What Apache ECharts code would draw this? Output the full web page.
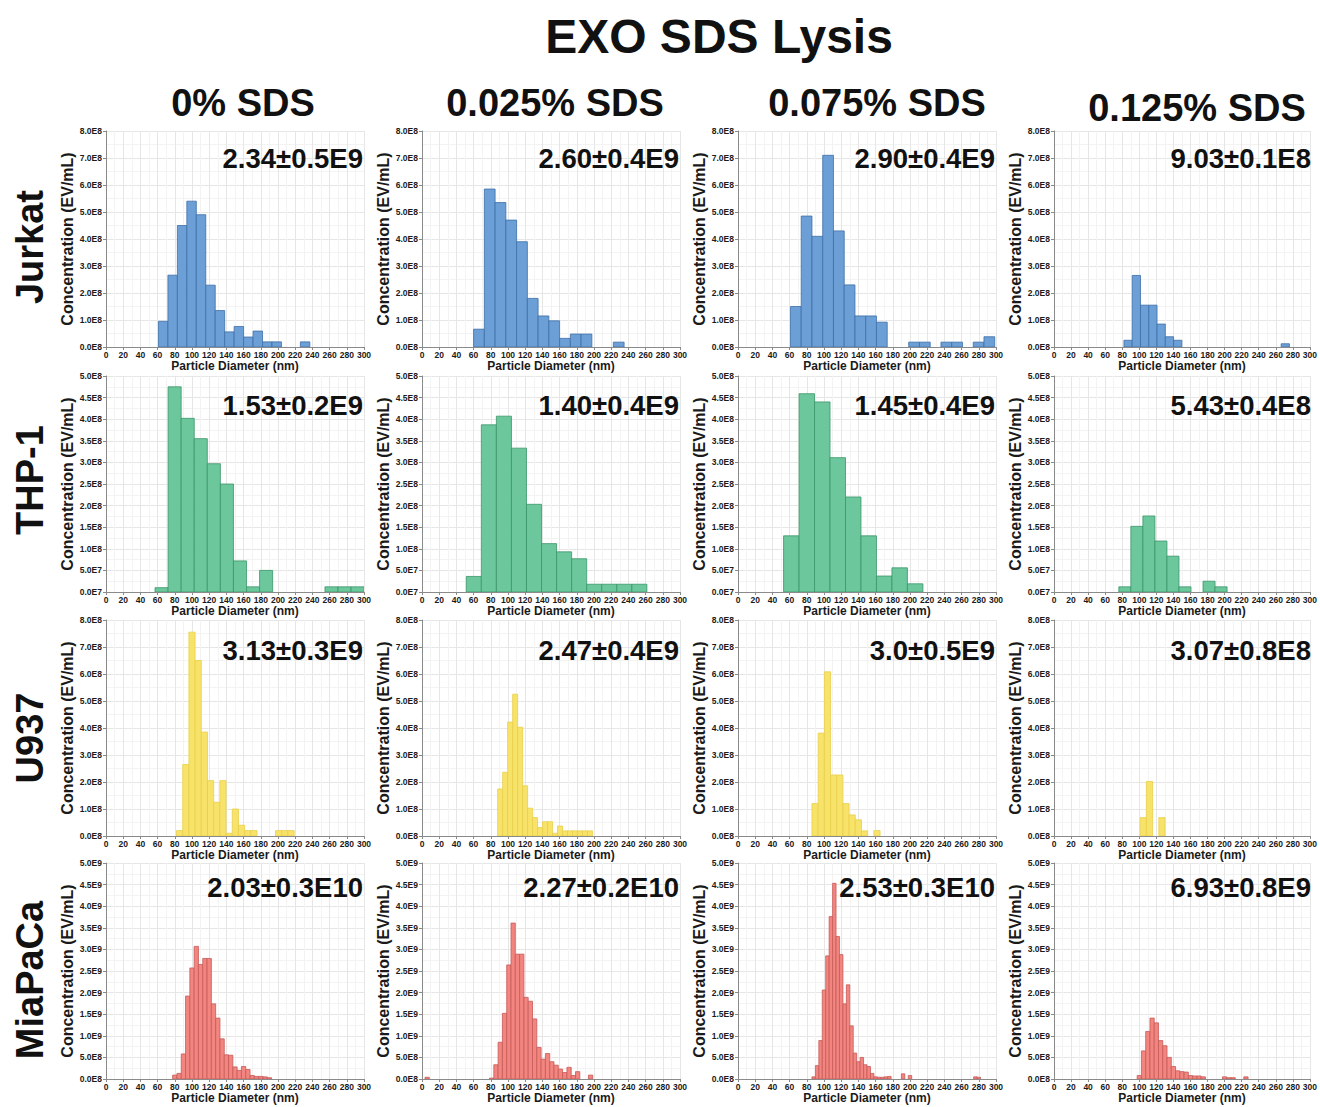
<!DOCTYPE html>
<html><head><meta charset="utf-8">
<script src="https://cdn.jsdelivr.net/npm/echarts@6/dist/echarts.min.js"></script>
<style>html,body{margin:0;padding:0;background:#fff}#c{width:1320px;height:1107px}</style>
</head><body><div id="c"></div>
<script>
// ---------- texts ----------
const mainTitle = 'EXO SDS Lysis';
const cellLines = ['Jurkat', 'THP-1', 'U937', 'MiaPaCa'];
const sdsLevels = ['0% SDS', '0.025% SDS', '0.075% SDS', '0.125% SDS'];
const totals = [
  ['2.34±0.5E9', '2.60±0.4E9', '2.90±0.4E9', '9.03±0.1E8'],
  ['1.53±0.2E9', '1.40±0.4E9', '1.45±0.4E9', '5.43±0.4E8'],
  ['3.13±0.3E9', '2.47±0.4E9', '3.0±0.5E9', '3.07±0.8E8'],
  ['2.03±0.3E10', '2.27±0.2E10', '2.53±0.3E10', '6.93±0.8E9']
];
const xName = 'Particle Diameter (nm)';
const yName = 'Concentration (EV/mL)';

// ---------- axes ----------
const xTickLabels = ['0','20','40','60','80','100','120','140','160','180','200','220','240','260','280','300'];
const yMax  = [8e8, 5e8, 8e8, 5e9];
const yStep = [1e8, 0.5e8, 1e8, 0.5e9];
const yTicksJurkat = ['0.0E8','1.0E8','2.0E8','3.0E8','4.0E8','5.0E8','6.0E8','7.0E8','8.0E8'];
const yTicksTHP1   = ['0.0E7','5.0E7','1.0E8','1.5E8','2.0E8','2.5E8','3.0E8','3.5E8','4.0E8','4.5E8','5.0E8'];
const yTicksU937   = ['0.0E8','1.0E8','2.0E8','3.0E8','4.0E8','5.0E8','6.0E8','7.0E8','8.0E8'];
const yTicksMia    = ['0.0E8','5.0E8','1.0E9','1.5E9','2.0E9','2.5E9','3.0E9','3.5E9','4.0E9','4.5E9','5.0E9'];
const yTickLabels = [yTicksJurkat, yTicksTHP1, yTicksU937, yTicksMia];

// ---------- histogram data (values in row units, bins in nm) ----------
const rowUnit = [1e8, 1e8, 1e8, 1e9];
const binStart = [[61, 60, 61, 82], [57, 51.5, 53, 76], [82, 88, 86, 101], [77.5, 3.5, 86, 97.5]];
const binWidth = [[11, 12.5, 12.5, 9.7], [15.2, 17.5, 18, 14.1], [7.2, 5.8, 7.2, 7.3], [5, 5, 4, 5]];

const jurkat0   = [0.95, 2.66, 4.5, 5.4, 4.9, 2.29, 1.35, 0.56, 0.76, 0.37, 0.59, 0.19, 0.19, 0, 0, 0.19];
const jurkat025 = [0.66, 5.85, 5.35, 4.7, 3.9, 1.8, 1.15, 0.97, 0.32, 0.48, 0.48, 0, 0, 0.18];
const jurkat075 = [1.5, 4.85, 4.1, 7.1, 4.3, 2.3, 1.15, 1.15, 0.92, 0, 0, 0.18, 0.18, 0, 0.18, 0.18, 0, 0.18, 0.38];
const jurkat125 = [0.25, 2.65, 1.55, 1.55, 0.85, 0.38, 0.25, 0, 0, 0, 0, 0, 0, 0, 0, 0, 0, 0, 0, 0.12];

const thp0   = [0.1, 4.75, 4.02, 3.55, 2.97, 2.5, 0.72, 0.12, 0.5, 0, 0, 0, 0, 0.12, 0.12, 0.12];
const thp025 = [0.36, 3.87, 4.07, 3.33, 2.03, 1.12, 0.93, 0.77, 0.18, 0.18, 0.18, 0.18];
const thp075 = [1.3, 4.59, 4.4, 3.11, 2.2, 1.3, 0.37, 0.56, 0.19];
const thp125 = [0.12, 1.52, 1.76, 1.18, 0.83, 0.12, 0, 0.25, 0.12];

const u937_0   = [0.2, 2.65, 7.55, 6.5, 3.85, 2.05, 1.25, 2.05, 0.1, 1.0, 0.4, 0.2, 0.2, 0, 0, 0, 0.2, 0.2, 0.2];
const u937_025 = [1.74, 2.36, 4.22, 5.25, 4.03, 1.86, 1.03, 0.68, 0.31, 0.53, 0.53, 0.1, 0.37, 0.19, 0.19, 0.19, 0.19, 0.19, 0.19];
const u937_075 = [1.2, 3.81, 6.08, 2.26, 2.26, 1.2, 0.78, 0.6, 0.19, 0, 0.2];
const u937_125 = [0.68, 2.02, 0, 0.68];

const mia0   = [0.09, 0.13, 0.58, 1.92, 2.57, 3.07, 2.65, 2.79, 2.79, 1.74, 1.41, 0.93, 0.56, 0.55, 0.28, 0.2, 0.29, 0.22, 0.08, 0.06, 0.06, 0.05, 0.03];
const mia025 = [0.04, 0, 0, 0, 0, 0, 0, 0, 0, 0, 0, 0, 0, 0, 0,
                0.02, 0.33, 0.85, 1.52, 2.64, 3.61, 2.89, 2.89, 1.89, 1.8, 1.39, 0.73, 0.46, 0.59, 0.4, 0.32, 0.23, 0.15, 0.27, 0.08, 0.17, 0, 0, 0.09];
const mia075 = [0.05, 0.31, 0.89, 2.06, 2.85, 3.76, 4.53, 3.3, 2.88, 1.74, 2.18, 1.23, 0.6, 0.4, 0.5, 0.33, 0.29, 0.13, 0.05, 0.04, 0.04, 0.05, 0.06, 0, 0, 0, 0.12, 0, 0.08,
                0, 0, 0, 0, 0, 0, 0, 0, 0, 0, 0, 0, 0, 0, 0, 0, 0, 0, 0.05, 0.04];
const mia125 = [0.08, 0.65, 1.1, 1.41, 1.3, 0.89, 0.77, 0.5, 0.29, 0.19, 0.17, 0.16, 0.08, 0.07, 0.07, 0.05, 0, 0, 0, 0, 0.05, 0.03, 0.03, 0, 0, 0.05];

const panelValues = [
  [jurkat0, jurkat025, jurkat075, jurkat125],
  [thp0, thp025, thp075, thp125],
  [u937_0, u937_025, u937_075, u937_125],
  [mia0, mia025, mia075, mia125]
];

// ---------- styles / layout ----------
const fills   = ['#6b9fd6', '#6cc79c', '#f8e36a', '#f2857f'];
const strokes = ['#3e6fa8', '#3b9568', '#e9cf4a', '#c75a58'];
const colLeft = [106, 422, 738, 1054];
const rowTop  = [131, 376, 620, 863];
const plotW = 258, plotH = 216;
const annotDy = [27, 29, 30, 24];
const FONT = '"Liberation Sans", Arial, sans-serif';
const NARROW = '"Liberation Sans Narrow", "Liberation Sans", Arial, sans-serif';

const grids = [], xAxes = [], yAxes = [], series = [], graphics = [];
for (let r = 0; r < 4; r++) {
  for (let c = 0; c < 4; c++) {
    const idx = r * 4 + c;
    grids.push({ left: colLeft[c], top: rowTop[r], width: plotW, height: plotH });
    xAxes.push({
      gridIndex: idx, type: 'value', min: 0, max: 300, interval: 20,
      name: xName, nameLocation: 'middle', nameGap: 13,
      nameTextStyle: { fontFamily: FONT, fontWeight: 'bold', fontSize: 12, color: '#1a1a1a' },
      axisLine: { show: true, onZero: false, lineStyle: { color: '#8a8a8a', width: 1 } },
      axisTick: { show: true, length: 3, lineStyle: { color: '#8a8a8a' } },
      axisLabel: { fontFamily: NARROW, fontWeight: 'bold', fontSize: 8.5, color: '#1a1a1a', margin: 3,
        formatter: v => xTickLabels[Math.round(v / 20)] },
      splitLine: { show: true, lineStyle: { color: '#e6e6e6', width: 1 } },
      minorSplitLine: { show: true, lineStyle: { color: '#f3f3f3', width: 1 } },
      minorTick: { show: false, splitNumber: 2 }
    });
    const rr = r;
    yAxes.push({
      gridIndex: idx, type: 'value', min: 0, max: yMax[r], interval: yStep[r],
      name: yName, nameLocation: 'middle', nameGap: 30, nameRotate: 90,
      nameTextStyle: { fontFamily: FONT, fontWeight: 'bold', fontSize: 16, color: '#1a1a1a' },
      axisLine: { show: true, lineStyle: { color: '#8a8a8a', width: 1 } },
      axisTick: { show: true, length: 3, lineStyle: { color: '#8a8a8a' } },
      axisLabel: { fontFamily: NARROW, fontWeight: 'bold', fontSize: 8.5, color: '#1a1a1a', margin: 4,
        formatter: v => yTickLabels[rr][Math.round(v / yStep[rr])] },
      splitLine: { show: true, lineStyle: { color: '#e6e6e6', width: 1 } },
      minorSplitLine: { show: true, lineStyle: { color: '#f3f3f3', width: 1 } },
      minorTick: { show: false, splitNumber: 2 }
    });
    const vals = panelValues[r][c];
    const data = [];
    vals.forEach((v, i) => {
      if (v > 0) {
        const x0 = binStart[r][c] + i * binWidth[r][c];
        data.push([x0, x0 + binWidth[r][c], v * rowUnit[r]]);
      }
    });
    series.push({
      type: 'custom', xAxisIndex: idx, yAxisIndex: idx, data: data, clip: true,
      encode: { x: [0, 1], y: 2 },
      renderItem: (params, api) => {
        const p0 = api.coord([api.value(0), api.value(2)]);
        const p1 = api.coord([api.value(1), 0]);
        return { type: 'rect',
          shape: { x: p0[0], y: p0[1], width: p1[0] - p0[0], height: p1[1] - p0[1] },
          style: { fill: fills[rr], stroke: strokes[rr], lineWidth: 0.8 } };
      }
    });
    graphics.push({ type: 'text', z: 100, x: colLeft[c] + plotW - 1, y: rowTop[r] + annotDy[r],
      style: { text: totals[r][c], font: 'bold 27.5px ' + FONT, fill: '#111',
        textAlign: 'right', textVerticalAlign: 'middle', align: 'right', verticalAlign: 'middle' } });
  }
}
graphics.push({ type: 'text', z: 100, x: 719, y: 36,
  style: { text: mainTitle, font: 'bold 48px ' + FONT, fill: '#111',
    textAlign: 'center', textVerticalAlign: 'middle', align: 'center', verticalAlign: 'middle' } });
const headerX = [243, 555, 877, 1197];
const headerY = [103, 103, 103, 108];
sdsLevels.forEach((t, c) => graphics.push({ type: 'text', z: 100, x: headerX[c], y: headerY[c],
  style: { text: t, font: 'bold 38px ' + FONT, fill: '#111',
    textAlign: 'center', textVerticalAlign: 'middle', align: 'center', verticalAlign: 'middle' } }));
const rowLabelY = [247, 480, 738, 980];
cellLines.forEach((t, r) => graphics.push({ type: 'text', z: 100, x: 30, y: rowLabelY[r], rotation: Math.PI / 2,
  style: { text: t, font: 'bold 38px ' + FONT, fill: '#111',
    textAlign: 'center', textVerticalAlign: 'middle', align: 'center', verticalAlign: 'middle' } }));

const chart = echarts.init(document.getElementById('c'), null, { renderer: 'svg', width: 1320, height: 1107 });
chart.setOption({
  animation: false,
  backgroundColor: '#ffffff',
  grid: grids, xAxis: xAxes, yAxis: yAxes, series: series, graphic: graphics
});
</script></body></html>
